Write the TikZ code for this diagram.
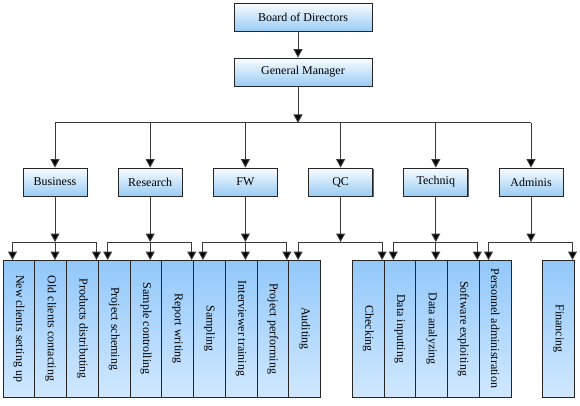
\documentclass[tikz,border=0pt]{standalone}
\usepackage{fontspec}
\setmainfont{Liberation Serif}
\usetikzlibrary{arrows.meta,shadows}
\definecolor{linec}{HTML}{3A3A3A}
\definecolor{boxtop}{HTML}{FAFDFF}
\definecolor{boxbot}{HTML}{99CCF5}
\definecolor{leaftop}{HTML}{92C8FA}
\definecolor{leafbot}{HTML}{D0E8FF}
\tikzset{
  conn/.style={draw=linec, line width=1pt},
  arr/.style={conn, -{Triangle[width=9pt,length=8.5pt,fill=black]}},
  topbox/.style={draw=black!85, line width=0.8pt, top color=boxtop, bottom color=boxbot,
    inner sep=0pt, font=\fontsize{12}{14}\selectfont,
    drop shadow={shadow xshift=1pt, shadow yshift=-1pt, fill=black!60, opacity=1}},
  leafbox/.style={draw=black!85, line width=0.8pt, top color=leaftop, bottom color=leafbot,
    inner sep=0pt, minimum width=31.75pt, minimum height=137pt, font=\fontsize{12}{14}\selectfont},
}
\begin{document}
\begin{tikzpicture}[x=1pt,y=-1pt]
\useasboundingbox (0,0) rectangle (580,406);
% top boxes
\node[topbox, minimum width=138pt, minimum height=28pt] (board) at (303,17) {Board of Directors};
\node[topbox, minimum width=138pt, minimum height=28pt] (gm) at (303,72) {General Manager};
\coordinate (gmbus) at (298,123);
\draw[arr] ([xshift=-5pt]board.south) -- ([xshift=-5pt]gm.north);
\draw[arr] ([xshift=-5pt]gm.south) -- (gmbus);
% leaves
\foreach \i/\t in {0/New clients setting up, 1/Old clients contacting, 2/Products distributing,
  3/Project scheming, 4/Sample controlling, 5/Report writing, 6/Sampling,
  7/Interviewer training, 8/Project performing, 9/Auditing, 11/Checking,
  12/Data inputting, 13/Data analyzing, 14/Software exploiting,
  15/Personnel administration, 17/Financing}
  \node[leafbox] (l\i) at ({3+\i*31.75+15.875},328.5) {\rotatebox{-90}{\t}};
% departments
\foreach \k/\cx/\name/\mid in {1/55/Business/1, 2/150.2/Research/1, 3/245.4/FW/1, 4/340.6/QC/0, 5/435.8/Techniq/1, 6/531/Adminis/0}{
  \node[topbox, minimum width=64pt, minimum height=28pt] (d\k) at (\cx,182) {\name};
  \coordinate (b\k) at (\cx,123);
  \coordinate (m\k) at (\cx,242);
  \coordinate (L\k) at (\cx-42.5,242);
  \coordinate (R\k) at (\cx+41.5,242);
  \coordinate (Lt\k) at (\cx-42.5,260);
  \coordinate (Mt\k) at (\cx,260);
  \coordinate (Rt\k) at (\cx+41.5,260);
  \draw[arr] (b\k) -- (d\k.north);
  \draw[arr] (d\k.south) -- (m\k);
  \draw[conn] (L\k) -- (R\k);
  \draw[arr] (L\k) -- (Lt\k);
  \ifnum\mid=1 \draw[arr] (m\k) -- (Mt\k); \fi
  \draw[arr] (R\k) -- (Rt\k);
}
\draw[conn] (b1) -- (b6);
\end{tikzpicture}
\end{document}
